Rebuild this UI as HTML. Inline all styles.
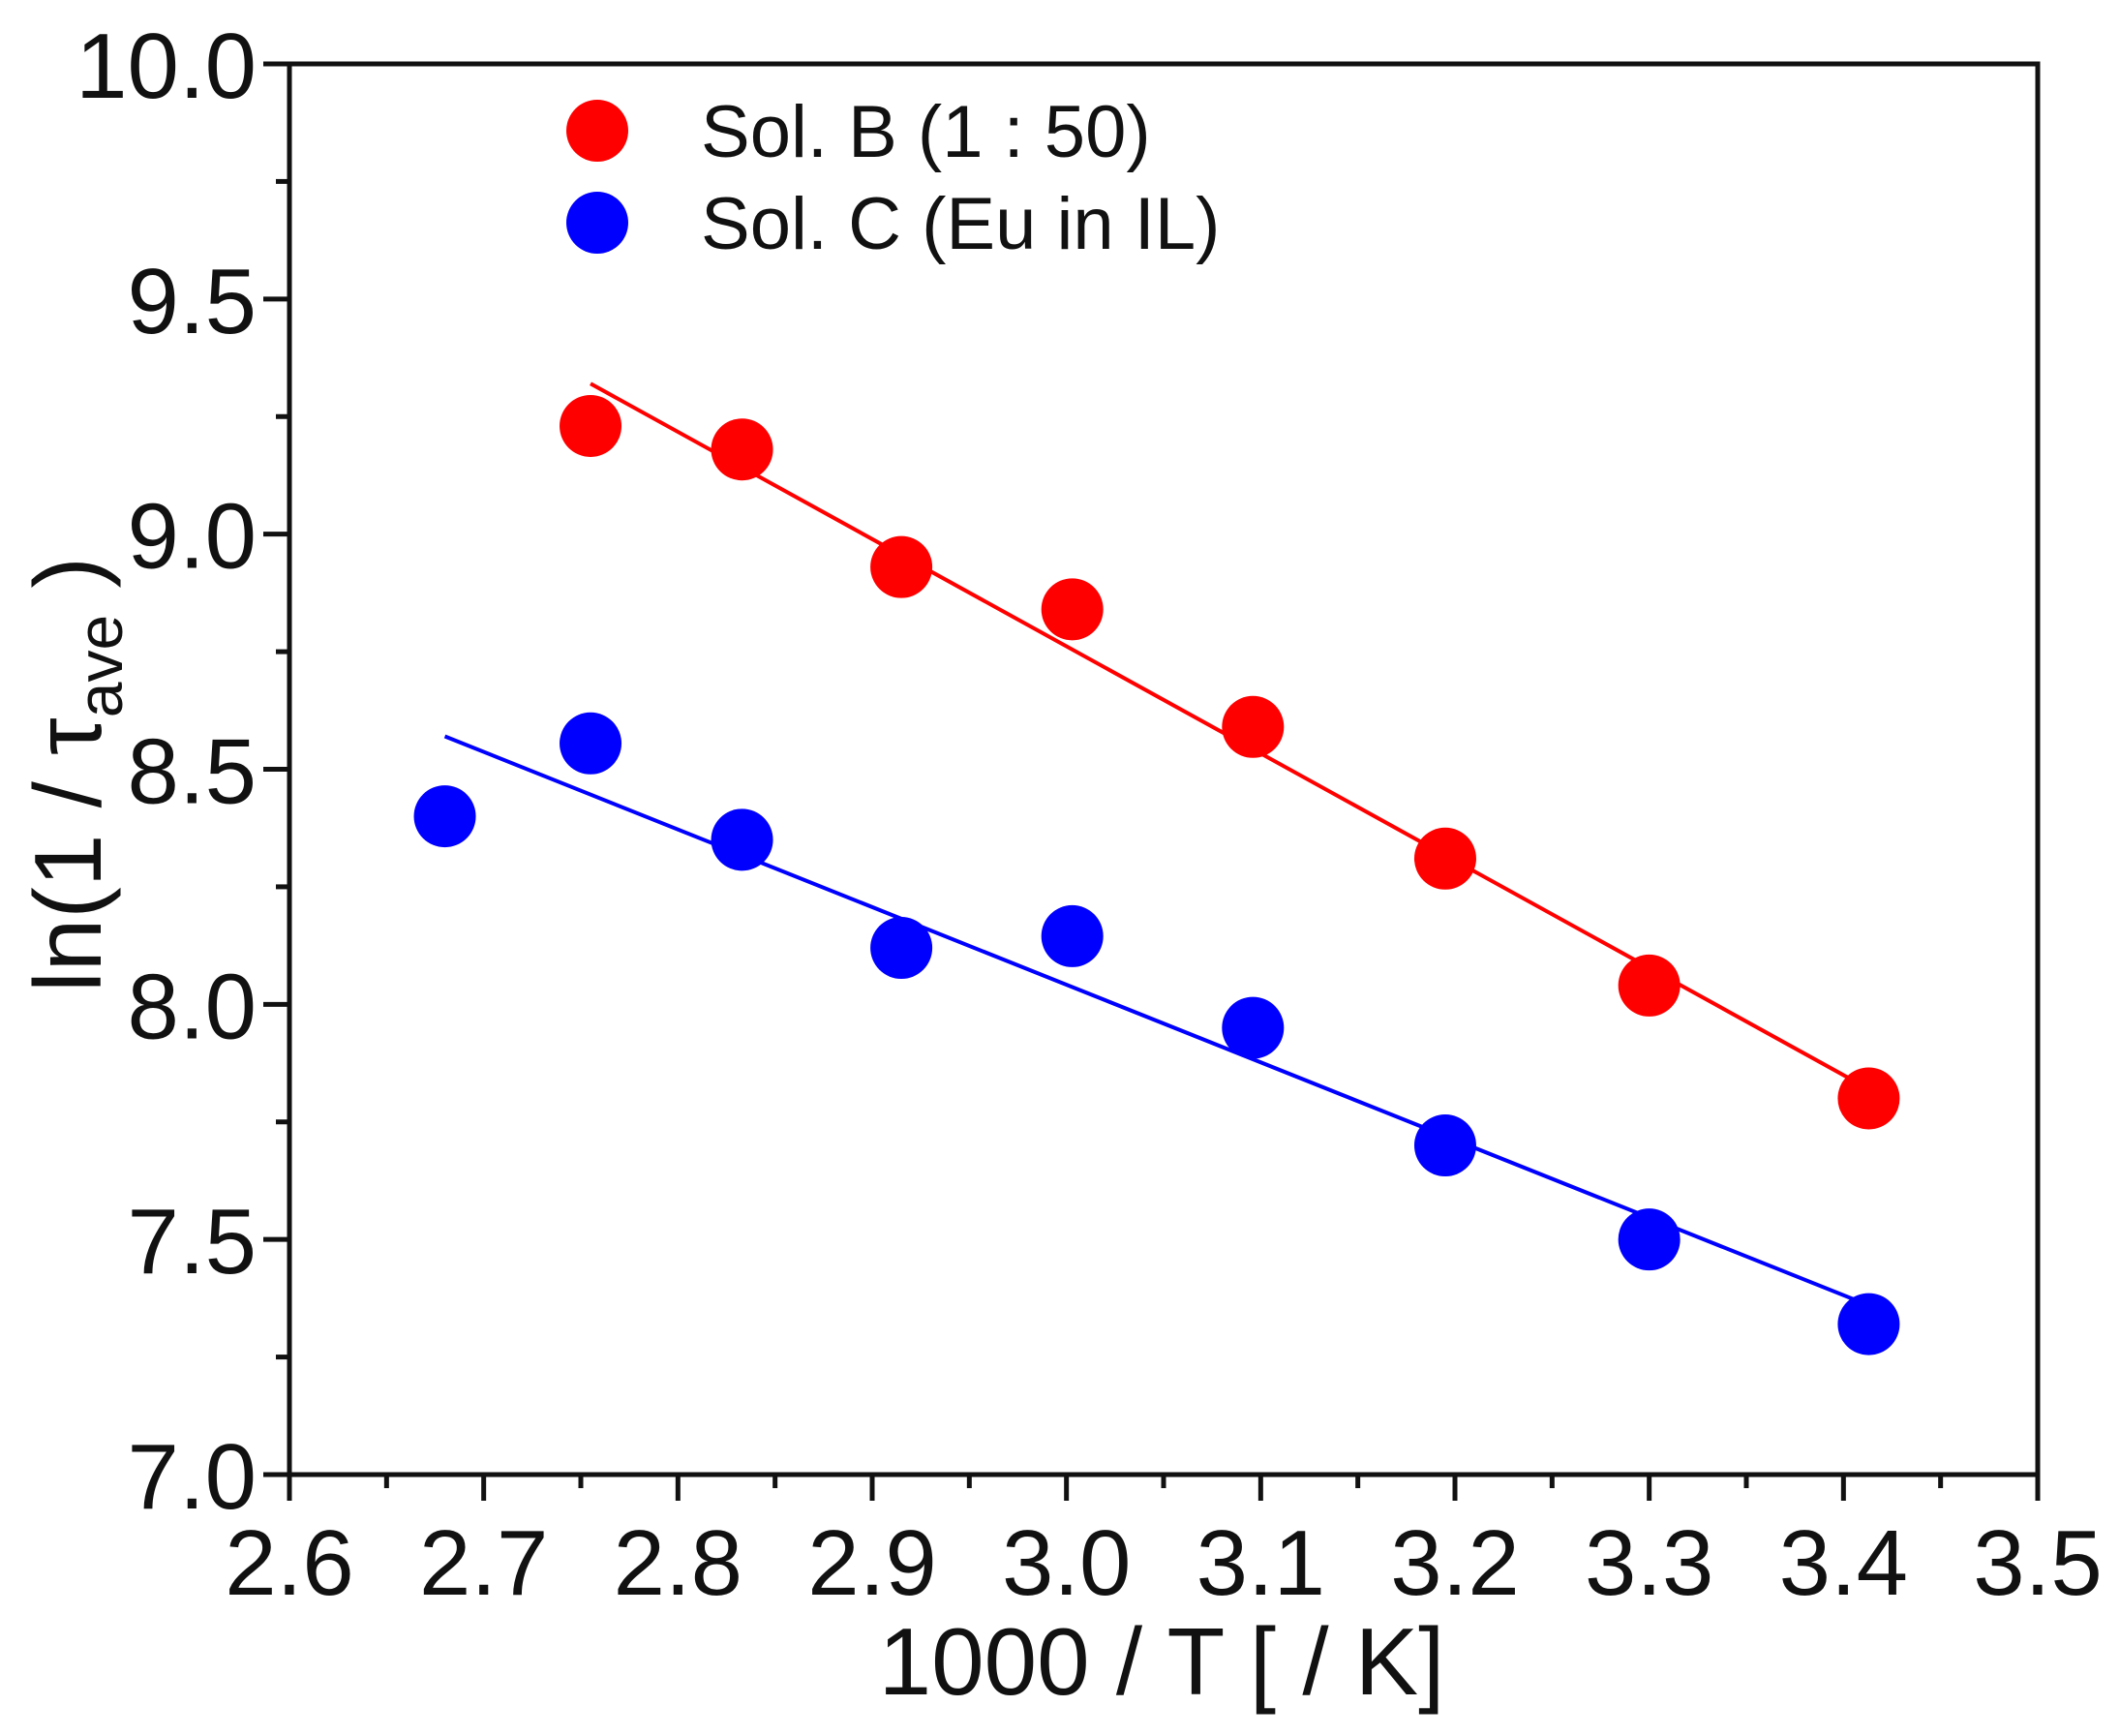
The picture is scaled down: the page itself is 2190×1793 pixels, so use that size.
<!DOCTYPE html>
<html><head><meta charset="utf-8"><style>
html,body{margin:0;padding:0;background:#fff;}
svg{display:block;font-family:"Liberation Sans",Arial,sans-serif;}
</style></head><body>
<svg id="chart" width="2190" height="1793" viewBox="0 0 2190 1793" xmlns="http://www.w3.org/2000/svg">
<g id="axes"></g>
<g id="fits"></g>
<g id="points"></g>
<g id="legend">
  <circle cx="617" cy="135" r="32" fill="#ff0000"/>
  <text x="724" y="162" font-size="76" fill="#111">Sol. B (1 : 50)</text>
  <circle cx="617" cy="230" r="32" fill="#0000ff"/>
  <text x="724" y="257" font-size="76" fill="#111">Sol. C (Eu in IL)</text>
</g>
<text x="1200" y="1750" font-size="98" text-anchor="middle" fill="#111">1000 / T [ / K]</text>
<text transform="translate(104,800) rotate(-90)" font-size="98" text-anchor="middle" fill="#111">ln(1 / τ<tspan font-size="66" dy="22">ave</tspan><tspan dy="-22"> )</tspan></text>
</svg>
<script>
const xTicks = [2.6,2.7,2.8,2.9,3.0,3.1,3.2,3.3,3.4,3.5];
const yTicks = [7.0,7.5,8.0,8.5,9.0,9.5,10.0];
const xB = [2.755,2.833,2.915,3.003,3.096,3.195,3.300,3.413];
const yB = [9.23,9.18,8.93,8.84,8.59,8.31,8.04,7.80];
const xC = [2.680,2.755,2.833,2.915,3.003,3.096,3.195,3.300,3.413];
const yC = [8.40,8.555,8.35,8.12,8.145,7.95,7.70,7.50,7.32];
const fitBx = [2.755,3.413];
const fitBy = [9.32,7.82];
const fitCx = [2.680,3.413];
const fitCy = [8.57,7.36];

const L=299,R=2105,T=66,B=1523;
const X0=2.6,X1=3.5,Y0=7.0,Y1=10.0;
function sx(v){return L+(v-X0)/(X1-X0)*(R-L);}
function sy(v){return B-(v-Y0)/(Y1-Y0)*(B-T);}
const NS="http://www.w3.org/2000/svg";
function mk(tag,attrs,parent){const e=document.createElementNS(NS,tag);for(const k in attrs)e.setAttribute(k,attrs[k]);parent.appendChild(e);return e;}
const axes=document.getElementById('axes');
const frame=mk('rect',{x:L,y:T,width:R-L,height:B-T,fill:'none',stroke:'#111','stroke-width':5},axes);


xTicks.forEach((v,i)=>{
  const x=sx(v);
  const t=mk('line',{x1:x,y1:B,x2:x,y2:B+27,stroke:'#111','stroke-width':5},axes);
  
  
  const lb=mk('text',{x:x,y:1647,'font-size':96,'text-anchor':'middle',fill:'#111'},axes);
  lb.textContent=v.toFixed(1);
  
  
  if(i<xTicks.length-1){
    const mx=sx(v+0.05);
    const m=mk('line',{x1:mx,y1:B,x2:mx,y2:B+14,stroke:'#111','stroke-width':5},axes);
    
    
  }
});
yTicks.forEach((v,i)=>{
  const y=sy(v);
  const t=mk('line',{x1:L,y1:y,x2:L-27,y2:y,stroke:'#111','stroke-width':5},axes);
  
  
  const lb=mk('text',{x:265,y:y+35,'font-size':96,'text-anchor':'end',fill:'#111'},axes);
  lb.textContent=v.toFixed(1);
  
  
  if(i<yTicks.length-1){
    const my=sy(v+0.25);
    const m=mk('line',{x1:L,y1:my,x2:L-14,y2:my,stroke:'#111','stroke-width':5},axes);
    
    
  }
});
const fits=document.getElementById('fits');
const fb=mk('line',{x1:sx(fitBx[0]),y1:sy(fitBy[0]),x2:sx(fitBx[1]),y2:sy(fitBy[1]),stroke:'#ff0000','stroke-width':4},fits);


const fc=mk('line',{x1:sx(fitCx[0]),y1:sy(fitCy[0]),x2:sx(fitCx[1]),y2:sy(fitCy[1]),stroke:'#0000ff','stroke-width':4},fits);


const pts=document.getElementById('points');
xB.forEach((v,i)=>{
  const c=mk('circle',{cx:sx(v),cy:sy(yB[i]),r:32,fill:'#ff0000'},pts);
  
  
});
xC.forEach((v,i)=>{
  const c=mk('circle',{cx:sx(v),cy:sy(yC[i]),r:32,fill:'#0000ff'},pts);
  
  
});
</script>
</body></html>
